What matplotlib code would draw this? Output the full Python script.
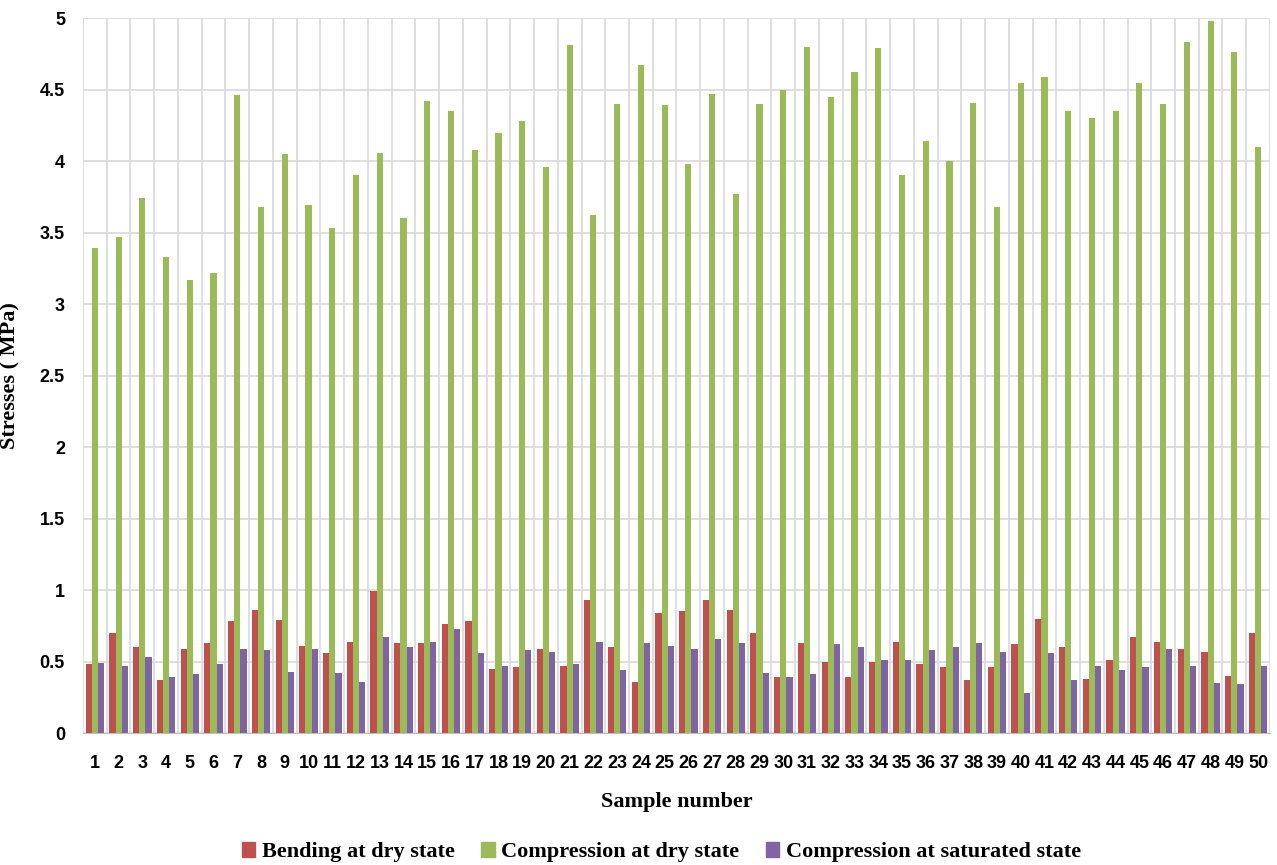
import numpy as np
from matplotlib import pyplot as plt
from matplotlib.patches import Patch

samples = list(range(1, 51))
bending_dry = [0.48, 0.70, 0.60, 0.37, 0.59, 0.63, 0.78, 0.86, 0.79, 0.61,
               0.56, 0.64, 0.99, 0.63, 0.63, 0.76, 0.78, 0.45, 0.46, 0.59,
               0.47, 0.93, 0.60, 0.36, 0.84, 0.85, 0.93, 0.86, 0.70, 0.39,
               0.63, 0.50, 0.39, 0.50, 0.64, 0.48, 0.46, 0.37, 0.46, 0.62,
               0.80, 0.60, 0.38, 0.51, 0.67, 0.64, 0.59, 0.57, 0.40, 0.70]
compression_dry = [3.39, 3.47, 3.74, 3.33, 3.17, 3.22, 4.46, 3.68, 4.05, 3.69,
                   3.53, 3.90, 4.06, 3.60, 4.42, 4.35, 4.08, 4.20, 4.28, 3.96,
                   4.81, 3.62, 4.40, 4.67, 4.39, 3.98, 4.47, 3.77, 4.40, 4.50,
                   4.80, 4.45, 4.62, 4.79, 3.90, 4.14, 4.00, 4.41, 3.68, 4.55,
                   4.59, 4.35, 4.30, 4.35, 4.55, 4.40, 4.83, 4.98, 4.76, 4.10]
compression_sat = [0.49, 0.47, 0.53, 0.39, 0.41, 0.48, 0.59, 0.58, 0.43, 0.59,
                   0.42, 0.36, 0.67, 0.60, 0.64, 0.73, 0.56, 0.47, 0.58, 0.57,
                   0.48, 0.64, 0.44, 0.63, 0.61, 0.59, 0.66, 0.63, 0.42, 0.39,
                   0.41, 0.62, 0.60, 0.51, 0.51, 0.58, 0.60, 0.63, 0.57, 0.28,
                   0.56, 0.37, 0.47, 0.44, 0.46, 0.59, 0.47, 0.35, 0.34, 0.47]
labels = ["Bending at dry state", "Compression at dry state", "Compression at saturated state"]
colors = ["#C0504D", "#9BBB59", "#8064A2"]

serif = ["Liberation Serif", "DejaVu Serif"]
sans = ["Liberation Sans", "DejaVu Sans"]

fig = plt.figure(figsize=(12.77, 8.65), dpi=100)
ax = fig.add_axes([0.065, 0.1526, 0.9295, 0.8264])

x = np.array(samples)
w = 0.26
for i, (vals, c) in enumerate(zip([bending_dry, compression_dry, compression_sat], colors)):
	ax.bar(x + (i - 1) * w, vals, width=w, color=c, zorder=3)

ax.set_xlim(0.5, 50.5)
ax.set_ylim(0, 5)
ax.set_yticks(np.arange(0, 5.01, 0.5))
ax.set_yticklabels(["0", "0.5", "1", "1.5", "2", "2.5", "3", "3.5", "4", "4.5", "5"])
ax.set_xticks(x)
ax.set_xticks(np.arange(0.5, 51, 1), minor=True)
ax.grid(axis="y", which="major", color="#D9D9D9", linewidth=1.2, zorder=0)
ax.grid(axis="x", which="minor", color="#D9D9D9", linewidth=1.2, zorder=0)
ax.tick_params(which="both", length=0)
ax.tick_params(axis="y", pad=13)
ax.tick_params(axis="x", pad=16)
for s in ["top", "right", "left"]:
	ax.spines[s].set_visible(False)
ax.spines["bottom"].set_color("#BFBFBF")
for t in ax.get_xticklabels() + ax.get_yticklabels():
	t.set_fontfamily(sans)
	t.set_fontweight("bold")
	t.set_fontsize(13)

ax.set_ylabel("Stresses ( MPa)", family=serif, fontweight="bold", fontsize=16)
ax.yaxis.set_label_coords(-0.053, 0.5)
ax.set_xlabel("Sample number", family=serif, fontweight="bold", fontsize=16, labelpad=14)

handles = [Patch(color=c) for c in colors]
fig.legend(handles, labels, loc="lower center", bbox_to_anchor=(0.518, -0.02), ncol=3,
           frameon=False, prop={"family": serif, "weight": "bold", "size": 16},
           handlelength=0.6, handleheight=0.6, handletextpad=0.3, columnspacing=1.2)

fig.savefig("out.png", dpi=100)
